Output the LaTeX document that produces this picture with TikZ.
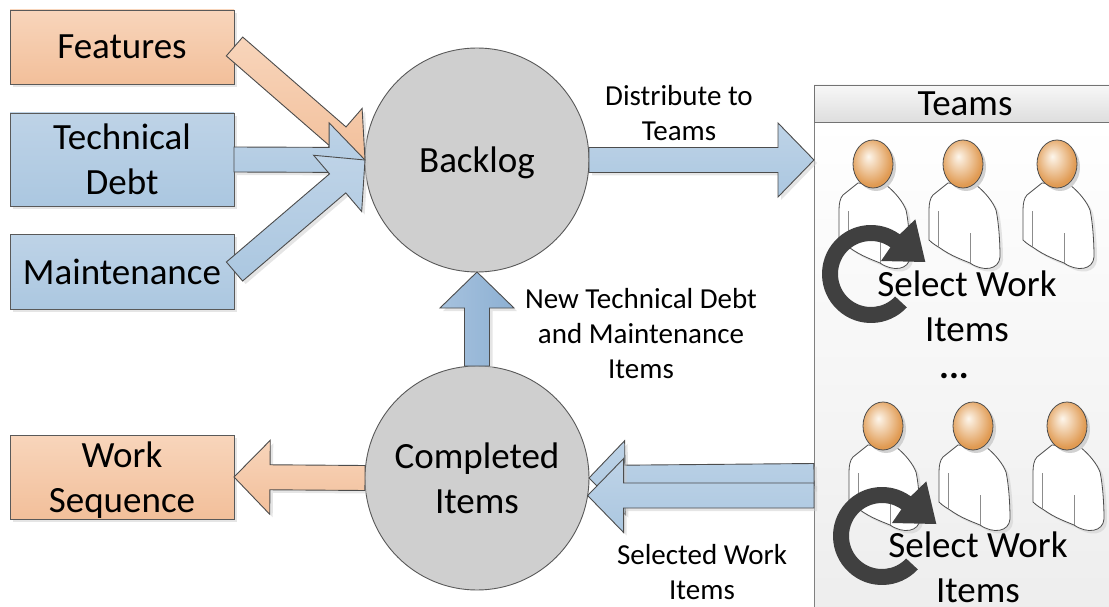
\documentclass[tikz,border=0pt]{standalone}
\usepackage{fontspec}
\setmainfont{Carlito}
\usetikzlibrary{calc,shadows}

\definecolor{orangetop}{HTML}{F8D5BB}
\definecolor{orangebot}{HTML}{F2BF9A}
\definecolor{bluetop}{HTML}{BED3E7}
\definecolor{bluebot}{HTML}{ABC7E0}
\definecolor{uparrowl}{HTML}{A6C2DE}
\definecolor{uparrowr}{HTML}{8DB0D3}
\definecolor{headlight}{HTML}{FDF6EC}
\definecolor{headdark}{HTML}{E09A52}
\pgfdeclareradialshading{headball}{\pgfpoint{-6bp}{8bp}}{color(0bp)=(headlight); color(26bp)=(headdark); color(50bp)=(headdark)}

\tikzset{
    softshadow/.style={drop shadow={shadow xshift=3pt, shadow yshift=-3pt, fill=black!20, opacity=.5}},
    bigtext/.style={font=\fontsize{37}{45}\selectfont, align=center, inner sep=0pt},
    smalltext/.style={font=\fontsize{29}{35}\selectfont, align=center, inner sep=0pt},
    orangebox/.style={rectangle, draw=black!65, line width=0.9pt, minimum width=224pt, outer sep=0pt, softshadow, top color=orangetop, bottom color=orangebot, bigtext},
    bluebox/.style={rectangle, draw=black!65, line width=0.9pt, minimum width=224pt, outer sep=0pt, softshadow, top color=bluetop, bottom color=bluebot, bigtext},
    hub/.style={circle, draw=black!65, line width=0.9pt, fill=black!19, minimum size=224pt, outer sep=0pt, bigtext},
    blockarrow/.style={draw=black!70, line width=0.9pt, softshadow, to path={
        coordinate (neck) at ($(\tikztotarget)!36pt!(\tikztostart)$)
        ($(\tikztostart)!12.5pt!90:(neck)$) -- ($(neck)!12.5pt!-90:(\tikztostart)$)
        -- ($(neck)!37pt!-90:(\tikztostart)$) -- (\tikztotarget)
        -- ($(neck)!37pt!90:(\tikztostart)$) -- ($(neck)!12.5pt!90:(\tikztostart)$)
        -- ($(\tikztostart)!12.5pt!-90:(neck)$) -- cycle}},
    bluearrow/.style={blockarrow, top color=bluetop, bottom color=bluebot},
    orangearrow/.style={blockarrow, top color=orangetop, bottom color=orangebot},
    person/.pic={
        \draw[draw=black!70, line width=0.8pt, fill=white, softshadow] (-15,19) -- (-30,31)
            .. controls (-33,34) and (-34,40) .. (-34,46) -- (-34,76)
            .. controls (-30,80) and (-26,82) .. (-23,84)
            .. controls (-12,92) and (0,96) .. (7,99)
            .. controls (20,108) and (36,106) .. (37,93)
            .. controls (37,80) and (36,60) .. (33,46)
            .. controls (30,38) and (22,28) .. (13,21) -- cycle;
        \draw[draw=black!45, line width=0.8pt] (7,69) -- (7,99);
        \draw[draw=black!45, line width=0.8pt] (-25,47) -- (-25,84);
        \fill[black!18] (3,3) ellipse [x radius=20, y radius=24];
        \draw[draw=black!70, line width=0.8pt, shading=headball] (0,0) ellipse [x radius=20, y radius=24];
    },
    curl/.pic={
        \fill[black!75] (43:49) arc [start angle=43, end angle=306, radius=49]
            -- (44.3,-54.7) -- (54.3,-12) -- (10,-13) -- (306:33)
            arc [start angle=306, end angle=43, radius=33] -- cycle;
    },
}

\begin{document}
\begin{tikzpicture}[x=1pt, y=-1pt]
        \clip (0,0) rectangle (1109,607);

        % Teams panel
        \node (teamspanel) [rectangle, draw=black!50, line width=0.9pt, top color=white, bottom color=black!7, minimum width=302pt, minimum height=493pt, outer sep=0pt] at (965,368.5) {};
        \node (teamsbar) [rectangle, draw=black!55, line width=0.9pt, top color=black!3, bottom color=black!13, minimum width=302pt, minimum height=37pt, outer sep=0pt, bigtext] at (965,103.5) {Teams};
        \foreach \px/\py in {873/164, 963/164, 1057/164, 883/426, 973/426, 1067/426}
            \pic at (\px,\py) {person};
        \pic at (871,274) {curl};
        \pic at (882,536) {curl};
        \node (selecttop) [bigtext] at (967,306) {Select Work\\Items};
        \node (dots) [bigtext] at (954,376) {\textbf{...}};
        \node (selectbot) [bigtext] at (978,567.5) {Select Work\\Items};

        % Nodes
        \node (features) [orangebox, minimum height=74pt] at (122,47) {Features};
        \node (technical) [bluebox, minimum height=93pt] at (122,159.5) {Technical\\Debt};
        \node (maintenance) [bluebox, minimum height=75pt] at (122,271.5) {Maintenance};
        \node (worksequence) [orangebox, minimum height=84pt, text depth=0pt] at (122,477) {Work\\Sequence};
        \node (backlog) [hub, text depth=0pt] at (477,160) {Backlog};
        \node (completed) [hub] at (477,478) {Completed\\Items};
        \coordinate (featuresout) at (234.5,46.5);
        \coordinate (maintenanceout) at (234.5,271.5);
        \coordinate (teamsout) at (814,476);
        \coordinate (teamsback) at (814,495.5);

        % Edges
        \draw[orangearrow] (featuresout) to (backlog.west);
        \draw[bluearrow] (technical.east) to (backlog.west);
        \draw[bluearrow] (maintenanceout) to (backlog.west);
        \draw[bluearrow] (backlog.east) to (teamspanel.west |- backlog.east);
        \draw[blockarrow, left color=uparrowl, right color=uparrowr] (completed.north) to (backlog.south);
        \draw[orangearrow] (completed.west) to (worksequence.east);
        \draw[bluearrow] (teamsout) to (completed.east);
        \draw[bluearrow] (teamsback) to (completed.-9);

        % Labels
        \node (distribute) [smalltext] at (679,113) {Distribute to\\Teams};
        \node (newitems) [smalltext] at (641,334) {New Technical Debt\\and Maintenance\\Items};
        \node (selected) [smalltext] at (702,572.5) {Selected Work\\Items};
    \end{tikzpicture}
\end{document}
